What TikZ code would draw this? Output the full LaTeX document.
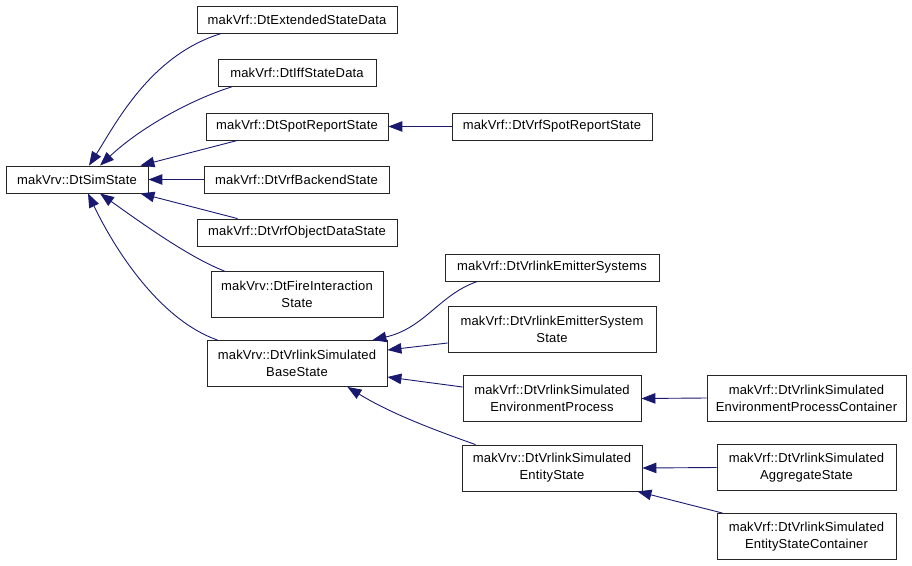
\documentclass[tikz,border=0pt]{standalone}
\usepackage{fontspec}
\setmainfont{Liberation Sans}
\newfontfamily\dotfont[LetterSpace=1.5]{Liberation Sans}
\usetikzlibrary{arrows.meta, calc}
\definecolor{edgeblue}{HTML}{191970}
\definecolor{boxline}{gray}{0.15}
\tikzset{
  cls/.style={
    draw=boxline, fill=white, line width=0.85pt,
    inner sep=0pt, align=center,
    font=\dotfont\fontsize{13}{17}\selectfont,
    minimum width=#1, minimum height=27
  },
  cls/.default=180,
  twoline/.style={minimum height=46},
  inh/.style={-{Triangle[length=14pt, width=10.5pt]}, line width=0.9pt, color=edgeblue}
}

\begin{document}
\begin{tikzpicture}[x=1pt, y=-1pt]
    \useasboundingbox (0,0) rectangle (912,565);

    % base class
    \node[cls=142] (sim) at (77,179.5) {makVrv::DtSimState};

    % direct children
    \node[cls=200] (ext)  at (297,19.5)  {makVrf::DtExtendedStateData};
    \node[cls=158] (iff)  at (297,73)    {makVrf::DtIffStateData};
    \node[cls=182] (spot) at (297,126.5) {makVrf::DtSpotReportState};
    \node[cls=185] (vbe)  at (296.5,179.5) {makVrf::DtVrfBackendState};
    \node[cls=200] (obj)  at (297,232.5) {makVrf::DtVrfObjectDataState};
    \node[cls=172, twoline] (fire) at (297,294.5) {makVrv::DtFireInteraction\\State};
    \node[cls=180, twoline] (base) at (297,363.5) {makVrv::DtVrlinkSimulated\\BaseState};

    % second level
    \node[cls=200] (vspot) at (552,126.5) {makVrf::DtVrfSpotReportState};
    \node[cls=214] (emsys) at (552,267.5) {makVrf::DtVrlinkEmitterSystems};
    \node[cls=208, twoline] (emst) at (552,329) {makVrf::DtVrlinkEmitterSystem\\State};
    \node[cls=178, twoline] (env)  at (552,398.5) {makVrf::DtVrlinkSimulated\\EnvironmentProcess};
    \node[cls=180, twoline] (ent)  at (552,468) {makVrv::DtVrlinkSimulated\\EntityState};

    % third level
    \node[cls=199, twoline] (envc) at (806.5,398) {makVrf::DtVrlinkSimulated\\EnvironmentProcessContainer};
    \node[cls=179, twoline] (agg)  at (806.5,467.5) {makVrf::DtVrlinkSimulated\\AggregateState};
    \node[cls=179, twoline] (entc) at (806.5,536.5) {makVrf::DtVrlinkSimulated\\EntityStateContainer};

    \draw[inh] ($(ext.south west)+(25,0)$) .. controls (150,55) and (115,125) .. ($(sim.north)+(12,0)$);
    \draw[inh] ($(iff.south west)+(14,0)$) .. controls (190,100) and (140,128) .. ($(sim.north)+(23,0)$);
    \draw[inh] ($(spot.south west)+(32,0)$) -- ($(sim.north east)+(-8,0)$);
    \draw[inh] (vbe.west) -- (sim.east);
    \draw[inh] ($(obj.north west)+(41,0)$) -- ($(sim.south east)+(-8,0)$);
    \draw[inh] ($(fire.north west)+(14,0)$) .. controls (190,258) and (140,222) .. ($(sim.south)+(23,0)$);
    \draw[inh] ($(base.north west)+(11,0)$) .. controls (160,320) and (115,250) .. ($(sim.south)+(11,0)$);

    \draw[inh] (vspot.west) -- (spot.east);

    \draw[inh] ($(emsys.south west)+(33,0)$) .. controls (440,294) and (425,328) .. ($(base.north east)+(-15,0)$);
    \draw[inh] ($(emst.west)+(0,14)$) -- ($(base.east)+(0,-13.5)$);
    \draw[inh] ($(env.west)+(0,-11.5)$) -- ($(base.east)+(0,13.5)$);
    \draw[inh] ($(ent.north west)+(14,0)$) .. controls (420,425) and (385,410) .. ($(base.south east)+(-40,0)$);

    \draw[inh] (envc.west) -- (env.east);
    \draw[inh] (agg.west) -- (ent.east);
    \draw[inh] ($(entc.north west)+(6,0)$) -- ($(ent.south east)+(-5,0)$);
\end{tikzpicture}
\end{document}
